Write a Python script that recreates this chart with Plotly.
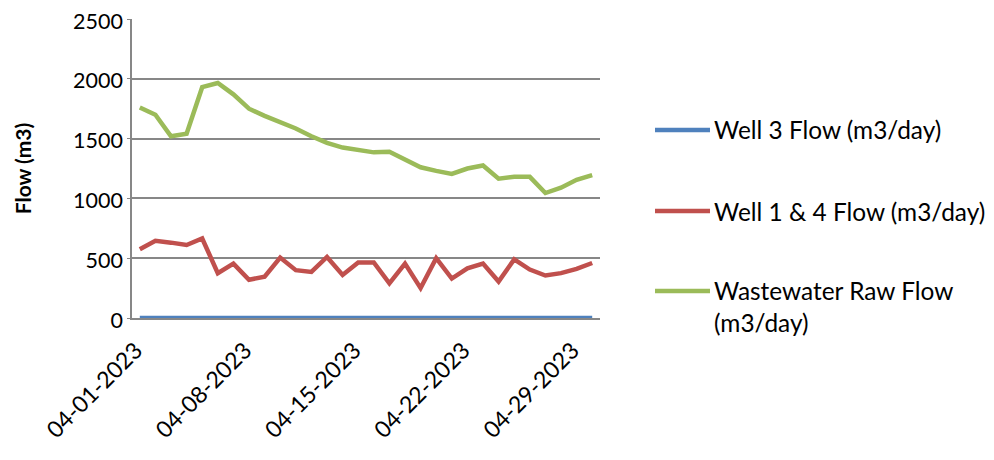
import plotly.graph_objects as go

dates = ["2023-04-01", "2023-04-02", "2023-04-03", "2023-04-04", "2023-04-05",
         "2023-04-06", "2023-04-07", "2023-04-08", "2023-04-09", "2023-04-10",
         "2023-04-11", "2023-04-12", "2023-04-13", "2023-04-14", "2023-04-15",
         "2023-04-16", "2023-04-17", "2023-04-18", "2023-04-19", "2023-04-20",
         "2023-04-21", "2023-04-22", "2023-04-23", "2023-04-24", "2023-04-25",
         "2023-04-26", "2023-04-27", "2023-04-28", "2023-04-29", "2023-04-30"]

well3 = [0, 0, 0, 0, 0, 0, 0, 0, 0, 0,
         0, 0, 0, 0, 0, 0, 0, 0, 0, 0,
         0, 0, 0, 0, 0, 0, 0, 0, 0, 0]
well14 = [575, 645, 630, 610, 665, 375, 455, 320, 345, 505,
          400, 385, 510, 360, 465, 465, 290, 455, 250, 500,
          330, 415, 455, 305, 490, 405, 355, 375, 410, 460]
waste = [1760, 1700, 1520, 1540, 1930, 1965, 1870, 1750, 1690, 1640,
         1585, 1520, 1465, 1425, 1405, 1385, 1390, 1320, 1260, 1230,
         1205, 1250, 1275, 1165, 1180, 1180, 1045, 1090, 1155, 1195]

names = ["Well 3 Flow (m3/day)", "Well 1 & 4 Flow (m3/day)", "Wastewater Raw Flow<br>(m3/day)"]
colors = ["#4F81BD", "#C0504D", "#9BBB59"]
series = [well3, well14, waste]

FONT = "Lato"
OFF = 8  # page body margin
PL, PR, PT, PB = 132 - OFF, 600 - OFF, 19 - OFF, 318 - OFF
W, H = 994 - OFF, 460 - OFF

fig = go.Figure()
for vals, name, col in zip(series, names, colors):
    fig.add_trace(go.Scatter(x=dates, y=vals, mode="lines", name=name,
                             line=dict(color=col, width=4.5), showlegend=False))

# custom legend (line sample + label), like the original
leg_y = [130, 211, 291]
for name, col, yy in zip(names, colors, leg_y):
    ypaper = (PB - (yy - OFF)) / (PB - PT)
    fig.add_shape(type="line", xref="paper", yref="paper",
                  x0=(655 - OFF - PL) / (PR - PL), x1=(710 - OFF - PL) / (PR - PL),
                  y0=ypaper, y1=ypaper, line=dict(color=col, width=4.5))
    two = "<br>" in name
    fig.add_annotation(xref="paper", yref="paper", x=(712 - OFF - PL) / (PR - PL), y=ypaper,
                       text=name, showarrow=False, xanchor="left",
                       yanchor="top" if two else "middle",
                       yshift=17 if two else 0,
                       align="left", font=dict(family=FONT, size=24.4, color="#000000"))

fig.update_layout(
    width=W, height=H,
    margin=dict(l=PL, r=W - PR, t=PT, b=H - PB, autoexpand=False),
    paper_bgcolor="white", plot_bgcolor="white",
    font=dict(family=FONT, size=23, color="#000000"),
    showlegend=False,
)
fig.update_xaxes(
    type="date", automargin=False,
    range=["2023-03-31 12:00", "2023-04-30 12:00"],
    tick0="2023-04-01", dtick=7 * 24 * 3600 * 1000,
    tickformat="%m-%d-%Y", tickangle=-45,
    showgrid=False, zeroline=False,
    showline=True, linecolor="#878787", linewidth=1.5,
    ticks="", tickfont=dict(family=FONT, size=23),
    ticklabelstandoff=8, ticklabelshift=-4, ticklabeloverflow="allow",
)
fig.update_yaxes(
    automargin=False,
    range=[0, 2500], dtick=500,
    showgrid=True, gridcolor="#878787", gridwidth=1.5,
    zeroline=False, showline=True, linecolor="#878787", linewidth=1.5,
    ticks="outside", ticklen=3, tickcolor="#878787",
    tickfont=dict(family=FONT, size=21.5), ticklabeloverflow="allow",
    ticklabelshift=2,
    title=dict(text="<b>Flow (m3)</b>", font=dict(family=FONT, size=21), standoff=36),
)

fig.write_html("out.html")
